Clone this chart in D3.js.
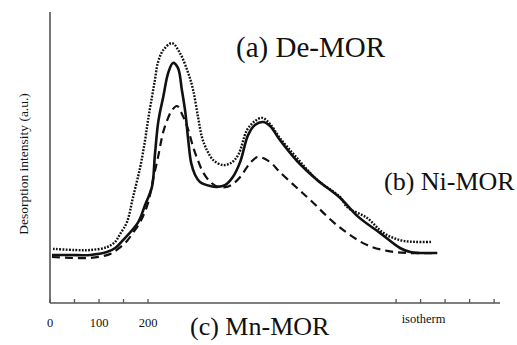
<!DOCTYPE html>
<html>
<head>
<meta charset="utf-8">
<script src="https://cdn.jsdelivr.net/npm/d3@7/dist/d3.min.js"></script>
<style>
  html, body { margin: 0; padding: 0; background: #fff; }
  svg { display: block; }
  text { font-family: "Times New Roman", "Liberation Serif", "DejaVu Serif", serif; fill: #111; }
</style>
</head>
<body>
<div id="chart"></div>
<script>
// ---- data (temperature-like x units, intensity in a.u.) ----
const seriesNames = ["De-MOR", "Ni-MOR", "Mn-MOR"];

const dottedX = [6, 51, 82, 116, 133, 143, 157, 169, 184, 194, 200, 208, 214, 220, 231, 249, 265, 282, 292, 302, 310, 320, 333, 353, 369, 384, 402, 418, 433, 449, 469, 504, 545, 592, 606, 647, 680, 714, 745, 780];
const dottedY = [18.6, 18.2, 18.2, 19.2, 21.0, 23.7, 27.8, 36.1, 46.7, 56.0, 62.9, 70.8, 76.6, 82.5, 86.9, 89.3, 85.9, 79.0, 73.2, 63.9, 57.0, 52.6, 49.1, 47.4, 48.1, 50.9, 59.5, 62.5, 63.6, 61.5, 56.7, 49.8, 42.3, 36.4, 33.0, 29.2, 24.1, 21.6, 21.0, 21.0];

const solidX = [4, 41, 82, 116, 133, 149, 180, 194, 208, 214, 220, 224, 231, 241, 251, 261, 269, 276, 282, 288, 296, 306, 327, 341, 357, 373, 388, 404, 418, 435, 449, 469, 504, 545, 592, 629, 673, 714, 735, 755, 790];
const solidY = [16.5, 16.5, 16.5, 17.5, 18.9, 21.6, 27.8, 33.7, 39.9, 50.9, 61.2, 65.3, 70.8, 79.0, 82.5, 80.8, 73.2, 65.6, 56.0, 48.1, 44.0, 41.6, 40.2, 39.9, 40.5, 43.3, 48.5, 57.7, 61.2, 62.2, 60.8, 56.0, 48.8, 42.3, 36.1, 29.6, 24.1, 18.9, 17.5, 17.2, 17.2];

const dashedX = [4, 41, 82, 122, 139, 157, 169, 184, 200, 210, 220, 231, 241, 249, 259, 271, 282, 292, 300, 312, 327, 343, 361, 373, 388, 402, 412, 424, 439, 453, 469, 504, 531, 578, 612, 647, 688, 729, 790];
const dashedY = [15.8, 15.5, 15.5, 16.8, 18.6, 21.3, 24.1, 27.8, 34.4, 42.3, 49.8, 58.8, 63.6, 66.3, 67.7, 64.3, 59.5, 53.6, 49.8, 45.0, 41.6, 39.9, 39.9, 40.9, 43.3, 46.7, 48.8, 50.2, 49.5, 47.8, 45.0, 39.5, 35.4, 27.8, 23.4, 19.9, 17.9, 17.2, 17.2];

const tempTicks = [0, 50, 100, 150, 200];
const tempTickLabels = [0, 100, 200];
const isoTicks = [706, 756, 806, 856, 906];
const panelLabels = ["(a) De-MOR", "(b) Ni-MOR", "(c) Mn-MOR"];
const yTitle = "Desorption intensity (a.u.)";
const isoLabel = "isotherm";

// ---- drawing ----
const W = 517, H = 345;
const svg = d3.select("#chart").append("svg").attr("width", W).attr("height", H);

const x = d3.scaleLinear().domain([0, 918]).range([50, 500]);
const y = d3.scaleLinear().domain([0, 100]).range([303, 12]);

// axes
svg.append("line").attr("x1", x(0)).attr("x2", x(0)).attr("y1", y(100)).attr("y2", y(0))
  .attr("stroke", "#555").attr("stroke-width", 1.6);
svg.append("line").attr("x1", x(0)).attr("x2", x(918)).attr("y1", y(0)).attr("y2", y(0))
  .attr("stroke", "#555").attr("stroke-width", 1.6);

const allTicks = tempTicks.concat(isoTicks);
svg.selectAll("line.tick").data(allTicks).enter().append("line")
  .attr("class", "tick")
  .attr("x1", d => x(d)).attr("x2", d => x(d))
  .attr("y1", y(0)).attr("y2", y(0) - 4)
  .attr("stroke", "#555").attr("stroke-width", 1.3);

svg.selectAll("text.tl").data(tempTickLabels).enter().append("text")
  .attr("class", "tl")
  .attr("x", d => x(d)).attr("y", 327)
  .attr("text-anchor", "middle").attr("font-size", 12.5)
  .text(d => d);

svg.append("text").attr("x", x(762)).attr("y", 323)
  .attr("text-anchor", "middle").attr("font-size", 12.5).text(isoLabel);

svg.append("text")
  .attr("transform", "translate(28,164) rotate(-90)")
  .attr("text-anchor", "middle").attr("font-size", 13.5)
  .text(yTitle);

// curves
const line = d3.line().x(d => x(d[0])).y(d => y(d[1])).curve(d3.curveCatmullRom.alpha(0.5));
const zip = (a, b) => a.map((v, i) => [v, b[i]]);

svg.append("path").datum(zip(dashedX, dashedY)).attr("d", line)
  .attr("fill", "none").attr("stroke", "#111").attr("stroke-width", 2.2)
  .attr("stroke-dasharray", "8,5");
svg.append("path").datum(zip(solidX, solidY)).attr("d", line)
  .attr("fill", "none").attr("stroke", "#111").attr("stroke-width", 2.6);
svg.append("path").datum(zip(dottedX, dottedY)).attr("d", line)
  .attr("fill", "none").attr("stroke", "#111").attr("stroke-width", 2.4)
  .attr("stroke-dasharray", "1.8,1.4");

// panel labels
const labelPos = [[236, 57], [384, 190], [190, 335]];
const labelSize = [29, 26, 26];
svg.selectAll("text.pl").data(panelLabels).enter().append("text")
  .attr("class", "pl")
  .attr("x", (d, i) => labelPos[i][0]).attr("y", (d, i) => labelPos[i][1])
  .attr("font-size", (d, i) => labelSize[i])
  .text(d => d);
</script>
</body>
</html>
